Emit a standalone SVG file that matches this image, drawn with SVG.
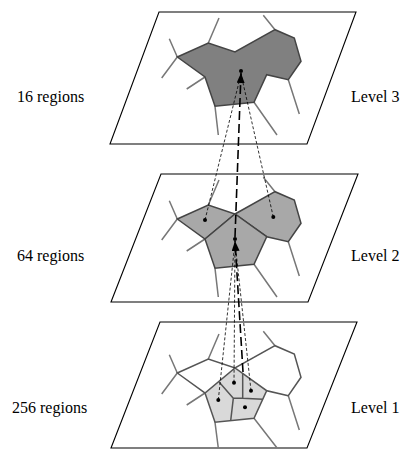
<svg xmlns="http://www.w3.org/2000/svg" width="410" height="451" viewBox="0 0 410 451">
<style>
.plane{fill:#fff;stroke:#000;stroke-width:1.1}
.spoke{fill:none;stroke:#777;stroke-width:1.5}
.edge{fill:none;stroke:#555;stroke-width:1.5}
.dot{fill:#000}
.lbl{font-family:"Liberation Serif","Times New Roman",serif;font-size:16px;fill:#000}
.heavy{fill:none;stroke:#000;stroke-width:1.6;stroke-dasharray:9 4}
.thin{fill:none;stroke:#000;stroke-width:0.8;stroke-dasharray:3 2}
</style>
<defs>
<marker id="ah" markerWidth="10" markerHeight="8" refX="10" refY="4" orient="auto" markerUnits="userSpaceOnUse">
<path d="M0,0 L10,4 L0,8 Z" fill="#000"/>
</marker>
<g id="spokes">
<path class="spoke" d="M177.3,219 L169.3,200.7 M177.3,219 L161.7,240 M208.3,205 L219,180 M275,191.7 L263.3,177.3 M205,239 L186.7,251 M215,268.3 L218.3,297 M254,264.3 L277,297 M288.3,241.7 L299.3,276"/>
</g>
</defs>

<g id="level3">
<polygon class="plane" points="159,12 356,12 307,144 110,144"/>
<use href="#spokes" transform="translate(0,-162)"/>
<polygon points="177.3,57 208.3,43 235,52 275,29.7 294.3,38 301,61.3 288.3,79.7 266.7,74.7 254,102.3 215,106.3 205,77" fill="#808080" stroke="#444" stroke-width="1.5"/>
<circle class="dot" cx="241" cy="71" r="2"/>
</g>

<g id="level2">
<polygon class="plane" points="161,174 358,174 308,302 111,302"/>
<use href="#spokes"/>
<g fill="#a8a8a8" stroke="#444" stroke-width="1.5">
<polygon points="177.3,219 208.3,205 235,214 205,239"/>
<polygon points="235,214 275,191.7 294.3,200 301,223.3 288.3,241.7 266.7,236.7"/>
<polygon points="205,239 235,214 266.7,236.7 254,264.3 215,268.3"/>
</g>
<circle class="dot" cx="205" cy="220" r="2"/>
<circle class="dot" cx="273.3" cy="217" r="2"/>
<circle class="dot" cx="235" cy="239" r="2"/>
</g>

<g id="level1">
<polygon class="plane" points="160,322 357,322 307,448 111,448"/>
<g transform="translate(0,154)">
<path class="spoke" d="M177.3,219 L169.3,200.7 M177.3,219 L161.7,240 M208.3,205 L219,180 M275,191.7 L263.3,177.3 M205,239 L186.7,251 M215,268.3 L218.3,294 M254,264.3 L276.7,293.5 M288.3,241.7 L299.3,276"/>
<polygon points="205,239 235,214 266.7,236.7 254,264.3 215,268.3" fill="#d9d9d9" stroke="none"/>
<path class="edge" d="M177.3,219 L208.3,205 L235,214 L275,191.7 L294.3,200 L301,223.3 L288.3,241.7 L266.7,236.7 L254,264.3 L215,268.3 L205,239 Z M177.3,219 L205,239 L235,214 L266.7,236.7 L288.3,241.7"/>
</g>
<path class="edge" d="M219.3,382.3 L233.3,398.3 L242.7,398.3 L242.7,373.5 M233.3,398.3 L230.7,420.6 M242.7,398.3 L262.7,399.3"/>
<circle class="dot" cx="218.3" cy="400" r="2"/>
<circle class="dot" cx="234" cy="382.7" r="2"/>
<circle class="dot" cx="251" cy="390.7" r="2"/>
<circle class="dot" cx="245" cy="407.3" r="2"/>
</g>

<g id="connectors">
<path class="thin" d="M205,220 L241,74"/>
<path class="thin" d="M273.3,217 L241,74"/>
<path class="heavy" d="M235,237 L241,73" marker-end="url(#ah)"/>
<path class="thin" d="M218.3,400 L235,242"/>
<path class="thin" d="M234,382.7 L235,242"/>
<path class="thin" d="M251,390.7 L235,242"/>
<path class="heavy" d="M243,372 L235,241" marker-end="url(#ah)"/>
</g>

<g id="labels">
<text class="lbl" x="17" y="102">16 regions</text>
<text class="lbl" x="351" y="102">Level 3</text>
<text class="lbl" x="17" y="261">64 regions</text>
<text class="lbl" x="351" y="261">Level 2</text>
<text class="lbl" x="12" y="413">256 regions</text>
<text class="lbl" x="351" y="413">Level 1</text>
</g>
</svg>
